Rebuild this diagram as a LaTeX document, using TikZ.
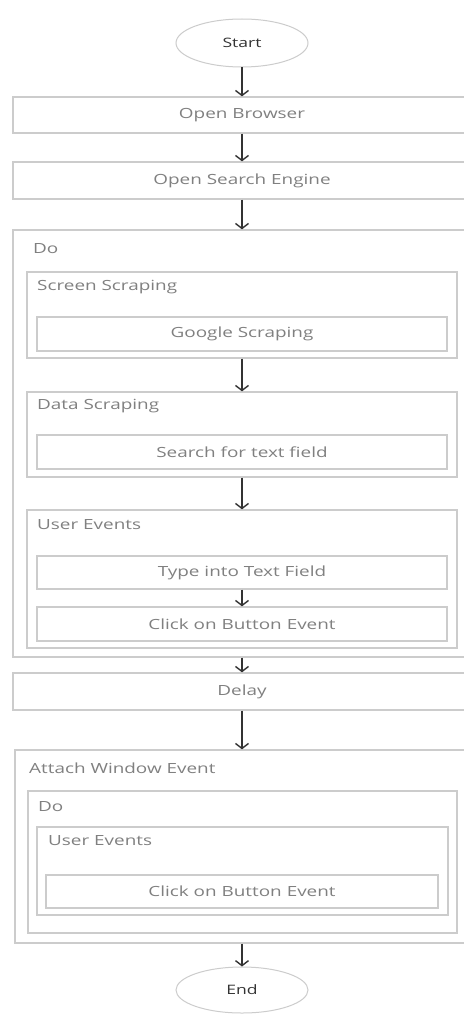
\documentclass[tikz,border=0pt]{standalone}
\usepackage{fontspec}
\setmainfont{Open Sans}[FakeStretch=1.35]
\usetikzlibrary{arrows.meta,shapes.geometric}
\definecolor{boxline}{HTML}{CCCCCC}
\definecolor{txt}{HTML}{808080}
\definecolor{arr}{HTML}{333333}
\begin{document}
\begin{tikzpicture}[x=1pt,y=-1pt,
  box/.style={draw=boxline, line width=1.3pt, text=txt, font=\fontsize{14}{16}\selectfont, inner sep=0pt, rectangle},
  term/.style={draw=boxline, line width=1pt, ellipse, inner sep=0pt, text=arr, font=\fontsize{13}{15}\selectfont},
  lbl/.style={anchor=west, inner sep=0pt, text=txt, font=\fontsize{14}{16}\selectfont},
  ctext/.style={text=txt, inner sep=0pt, font=\fontsize{14}{16}\selectfont},
  flow/.style={draw=arr, line width=1.4pt, -{Straight Barb[length=5pt,width=13pt,line width=1.4pt]}}]
\useasboundingbox (0,0) rectangle (463,1014);
\fill[white] (0,0) rectangle (463,1014);

\node[term, minimum width=132pt, minimum height=48pt] (start) at (242,43) {Start};
\node[box, minimum width=462pt, minimum height=36pt] (ob) at (244,115) {};
\node[ctext] (obt) at (242,115) {Open Browser};
\node[box, minimum width=462pt, minimum height=37pt] (ose) at (244,180.5) {};
\node[ctext] (oset) at (242,180.5) {Open Search Engine};

\node[box, minimum width=462pt, minimum height=427pt] (do1) at (244,443.5) {};
\node[lbl] (do1l) at (33,249) {Do};
\node[box, minimum width=430pt, minimum height=86pt] (ss) at (242,315) {};
\node[lbl] (ssl) at (37,287) {Screen Scraping};
\node[box, minimum width=410pt, minimum height=34pt] (gs) at (242,334) {Google Scraping};
\node[box, minimum width=430pt, minimum height=85pt] (ds) at (242,434.5) {};
\node[lbl] (dsl) at (37,406) {Data Scraping};
\node[box, minimum width=410pt, minimum height=34pt] (sf) at (242,452) {Search for text field};
\node[box, minimum width=430pt, minimum height=138pt] (ue) at (242,579) {};
\node[lbl] (uel) at (37,525) {User Events};
\node[box, minimum width=410pt, minimum height=33pt] (tt) at (242,572.5) {Type into Text Field};
\node[box, minimum width=410pt, minimum height=34pt] (cb) at (242,624) {Click on Button Event};

\node[box, minimum width=462pt, minimum height=37pt] (delay) at (244,691.5) {};
\node[ctext] (delayt) at (242,691.5) {Delay};

\node[box, minimum width=460pt, minimum height=193pt] (aw) at (245,846.5) {};
\node[lbl] (awl) at (29,768) {Attach Window Event};
\node[box, minimum width=429pt, minimum height=142pt] (do2) at (242.5,862) {};
\node[lbl] (do2l) at (38,807) {Do};
\node[box, minimum width=411pt, minimum height=88pt] (ue2) at (242.5,871) {};
\node[lbl] (ue2l) at (48,841) {User Events};
\node[box, minimum width=392pt, minimum height=33pt] (cb2) at (242,891.5) {Click on Button Event};

\node[term, minimum width=132pt, minimum height=46pt] (end) at (242,990) {End};

\draw[flow] (start.south) -- (start.south |- ob.north);
\draw[flow] (ob.south -| start) -- (ose.north -| start);
\draw[flow] (ose.south -| start) -- (do1.north -| start);
\draw[flow] (ss.south) -- (ds.north);
\draw[flow] (ds.south) -- (ue.north);
\draw[flow] (tt.south) -- (cb.north);
\draw[flow] (do1.south -| start) -- (delay.north -| start);
\draw[flow] (delay.south -| start) -- (aw.north -| start);
\draw[flow] (aw.south -| start) -- (end.north);
\end{tikzpicture}
\end{document}
